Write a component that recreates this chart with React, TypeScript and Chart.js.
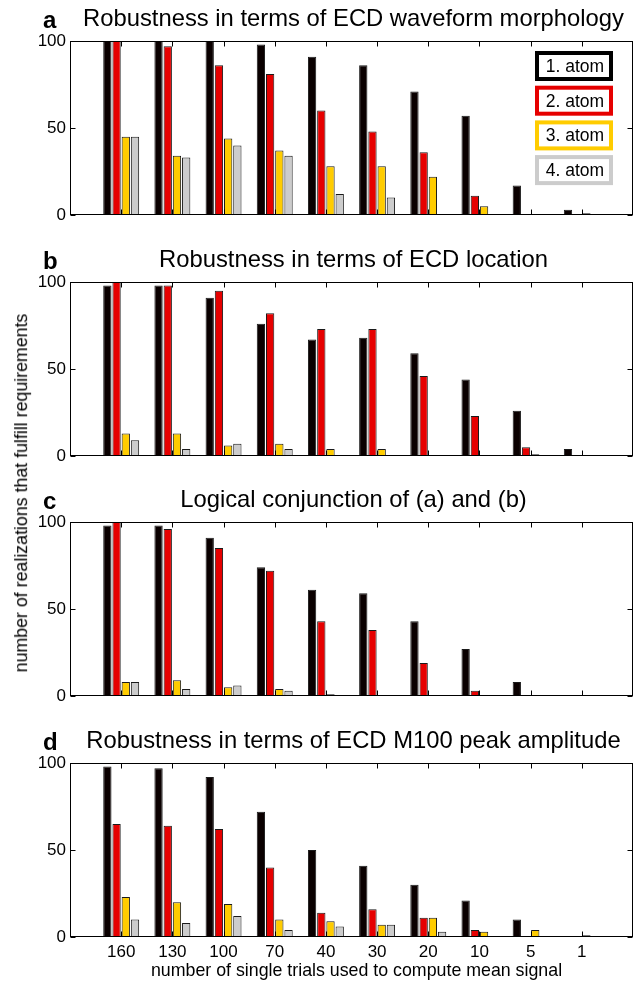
import React, { useEffect, useRef } from 'react';
import { Chart, registerables } from 'chart.js';

Chart.register(...registerables);

// ---------- data ----------
const categories = ['160', '130', '100', '70', '40', '30', '20', '10', '5', '1'];
const seriesLabels = ['1. atom', '2. atom', '3. atom', '4. atom'];
const yTickValues = [0, 50, 100];

// (a) waveform morphology
const waveformAtom1 = [100, 100, 100, 98, 91, 86, 71, 57, 17, 3];
const waveformAtom2 = [100, 97, 86, 81, 60, 48, 36, 11, 0, 0];
const waveformAtom3 = [45, 34, 44, 37, 28, 28, 22, 5, 0, 1];
const waveformAtom4 = [45, 33, 40, 34, 12, 10, 0, 0, 0, 0];

// (b) location
const locationAtom1 = [98, 98, 91, 76, 67, 68, 59, 44, 26, 4];
const locationAtom2 = [100, 98, 95, 82, 73, 73, 46, 23, 5, 0];
const locationAtom3 = [13, 13, 6, 7, 4, 4, 0, 0, 1, 0];
const locationAtom4 = [9, 4, 7, 4, 0, 0, 0, 0, 0, 0];

// (c) conjunction
const conjunctionAtom1 = [98, 98, 91, 74, 61, 59, 43, 27, 8, 0];
const conjunctionAtom2 = [100, 96, 85, 72, 43, 38, 19, 3, 0, 0];
const conjunctionAtom3 = [8, 9, 5, 4, 1, 0, 0, 0, 0, 0];
const conjunctionAtom4 = [8, 4, 6, 3, 0, 0, 0, 0, 0, 0];

// (d) M100 peak amplitude
const amplitudeAtom1 = [98, 97, 92, 72, 50, 41, 30, 21, 10, 0];
const amplitudeAtom2 = [65, 64, 62, 40, 14, 16, 11, 4, 0, 0];
const amplitudeAtom3 = [23, 20, 19, 10, 9, 7, 11, 3, 4, 1];
const amplitudeAtom4 = [10, 8, 12, 4, 6, 7, 3, 0, 0, 0];

const xAxisTitle = 'number of single trials used to compute mean signal';
const yAxisTitle = 'number of realizations that fulfill requirements';

// ---------- styles / layout ----------
const FONT = "'Liberation Sans', Arial, Helvetica, sans-serif";
const seriesColors = ['#0a0000', '#e60000', '#ffcc00', '#cccccc'];
const legendBorderColors = ['#000000', '#e60000', '#ffcc00', '#cccccc'];
const W = 638;
const AXIS_LEFT = 70;
const AXIS_RIGHT = 633;

const panels = [
  { letter: 'a', title: 'Robustness in terms of ECD waveform morphology', series: [waveformAtom1, waveformAtom2, waveformAtom3, waveformAtom4], top: 0, height: 240, plotTop: 41, plotBottom: 215, showX: false, legend: true },
  { letter: 'b', title: 'Robustness in terms of ECD location', series: [locationAtom1, locationAtom2, locationAtom3, locationAtom4], top: 240, height: 240, plotTop: 42, plotBottom: 216, showX: false, legend: false },
  { letter: 'c', title: 'Logical conjunction of (a) and (b)', series: [conjunctionAtom1, conjunctionAtom2, conjunctionAtom3, conjunctionAtom4], top: 480, height: 240, plotTop: 42, plotBottom: 216, showX: false, legend: false },
  { letter: 'd', title: 'Robustness in terms of ECD M100 peak amplitude', series: [amplitudeAtom1, amplitudeAtom2, amplitudeAtom3, amplitudeAtom4], top: 720, height: 263, plotTop: 43, plotBottom: 217, showX: true, legend: false },
];

const decorPlugin = {
  id: 'decor',
  afterDatasetsDraw(chart: any, _args: any, opts: any) {
    const { ctx, chartArea: ca, scales } = chart;
    ctx.save();
    ctx.strokeStyle = '#000';
    ctx.lineWidth = 1;
    const line = (x1: number, y1: number, x2: number, y2: number) => {
      ctx.beginPath();
      ctx.moveTo(x1, y1);
      ctx.lineTo(x2, y2);
      ctx.stroke();
    };
    const L = Math.round(ca.left) + 0.5;
    const R = Math.round(ca.right) - 0.5;
    const T = Math.round(ca.top) + 0.5;
    const B = Math.round(ca.bottom) - 0.5;
    ctx.strokeRect(L, T, R - L, B - T);
    const tl = 5;
    yTickValues.forEach((v) => {
      const y = Math.round(scales.y.getPixelForValue(v)) + 0.5;
      line(L, y, L + tl, y);
      line(R - tl, y, R, y);
    });
    categories.forEach((_c, i) => {
      const x = Math.round(scales.x.getPixelForValue(i + 1)) + 0.5;
      line(x, T, x, T + tl);
      line(x, B - tl, x, B);
    });

    const cx = (ca.left + ca.right) / 2;
    ctx.fillStyle = '#000';
    ctx.textBaseline = 'alphabetic';
    ctx.textAlign = 'center';
    ctx.font = `23.8px ${FONT}`;
    ctx.fillText(opts.title, cx + 2, ca.top - 15);
    ctx.textAlign = 'left';
    ctx.font = `bold 24px ${FONT}`;
    ctx.fillText(opts.letter, 43, ca.top - 13);

    if (opts.legend) {
      const bw = 78;
      const bh = 30;
      const gap = 34.7;
      const left = ca.right - 20 - bw;
      chart.data.datasets.forEach((ds: any, i: number) => {
        const top = ca.top + 10 + i * gap;
        ctx.fillStyle = '#fff';
        ctx.fillRect(left, top, bw, bh);
        ctx.strokeStyle = legendBorderColors[i];
        ctx.lineWidth = 4;
        ctx.strokeRect(left + 2, top + 2, bw - 4, bh - 4);
        ctx.fillStyle = '#000';
        ctx.font = `17.5px ${FONT}`;
        ctx.textAlign = 'center';
        ctx.textBaseline = 'middle';
        ctx.fillText(ds.label, left + bw / 2 + 1, top + bh / 2 + 1);
      });
    }

    if (opts.xTitle) {
      ctx.fillStyle = '#000';
      ctx.font = `17.8px ${FONT}`;
      ctx.textAlign = 'center';
      ctx.textBaseline = 'middle';
      ctx.fillText(opts.xTitle, cx + 5, ca.bottom + 34);
    }
    ctx.restore();
  },
};

function Panel({ p }: { p: (typeof panels)[number] }) {
  const ref = useRef<HTMLCanvasElement | null>(null);
  useEffect(() => {
    if (!ref.current) return;
    const chart = new Chart(ref.current, {
      type: 'bar',
      data: {
        datasets: p.series.map((vals, si) => ({
          label: seriesLabels[si],
          data: vals.map((v, i) => ({ x: i + 1, y: v })),
          backgroundColor: seriesColors[si],
          borderColor: '#1a1a1a',
          borderWidth: 1,
          categoryPercentage: 0.72,
          barPercentage: 0.9,
        })),
      },
      options: {
        animation: false,
        responsive: false,
        maintainAspectRatio: false,
        events: [],
        layout: {
          padding: {
            left: 0,
            right: W - AXIS_RIGHT,
            top: p.plotTop,
            bottom: 0,
          },
        },
        plugins: {
          legend: { display: false },
          title: { display: false },
          tooltip: { enabled: false },
          decor: {
            title: p.title,
            letter: p.letter,
            legend: p.legend,
            xTitle: p.showX ? xAxisTitle : '',
          },
        } as any,
        scales: {
          x: {
            type: 'linear',
            min: 0,
            max: categories.length + 1,
            offset: false,
            display: true,
            grid: { display: false, drawTicks: false },
            border: { display: false },
            afterBuildTicks: (s: any) => {
              s.ticks = categories.map((_c, i) => ({ value: i + 1 }));
            },
            ticks: {
              display: p.showX,
              autoSkip: false,
              maxRotation: 0,
              padding: 5,
              color: '#000',
              font: { size: 17, family: FONT },
              callback: (v: any) => categories[Number(v) - 1] ?? '',
            },
            afterFit: (s: any) => {
              s.height = p.height - p.plotBottom;
            },
          },
          y: {
            min: 0,
            max: 100,
            grid: { display: false, drawTicks: false },
            border: { display: false },
            afterBuildTicks: (s: any) => {
              s.ticks = yTickValues.map((v) => ({ value: v }));
            },
            ticks: {
              padding: 4,
              color: '#000',
              font: { size: 17, family: FONT },
            },
            afterFit: (s: any) => {
              s.width = AXIS_LEFT;
            },
          },
        } as any,
      },
      plugins: [decorPlugin],
    } as any);
    return () => chart.destroy();
  }, [p]);
  return (
    <canvas
      ref={ref}
      width={W}
      height={p.height}
      style={{ position: 'absolute', left: 0, top: p.top, width: W, height: p.height }}
    />
  );
}

export default function App() {
  return (
    <div style={{ position: 'absolute', left: 0, top: 0, width: W, height: 983, background: '#fff', overflow: 'hidden' }}>
      {panels.map((p) => (
        <Panel key={p.letter} p={p} />
      ))}
      <div
        style={{
          position: 'absolute',
          left: 22,
          top: 493,
          transform: 'translate(-50%, -50%) rotate(-90deg)',
          whiteSpace: 'nowrap',
          fontFamily: FONT,
          fontSize: '17.8px',
          lineHeight: 1,
          color: '#000',
        }}
      >
        {yAxisTitle}
      </div>
    </div>
  );
}
